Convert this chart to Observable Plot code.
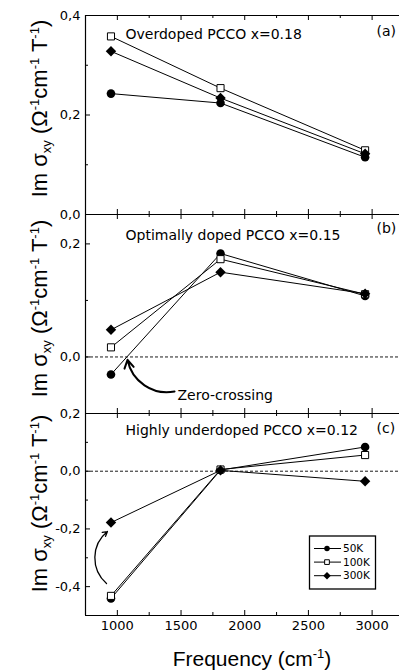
<!DOCTYPE html>
<html><head><meta charset="utf-8">
<script src="https://cdn.jsdelivr.net/npm/d3@7"></script>
<script src="https://cdn.jsdelivr.net/npm/@observablehq/plot@0.6"></script>
<style>
body{margin:0;background:#fff}
#chart{position:relative;width:399px;height:671px;overflow:hidden;background:#fff}
#chart svg{position:absolute;left:0}
</style>
</head><body><div id="chart"></div>
<script>
// ---- data ----
const freq = [950, 1810, 2945];
const temps = ["50K", "100K", "300K"];
const xDomain = [750, 3215];
const xMajor = [1000, 1500, 2000, 2500, 3000];
const xMinor = [1250, 1750, 2250, 2750];

// (a) Overdoped PCCO x=0.18
const a50  = [0.243, 0.224, 0.115];
const a100 = [0.358, 0.254, 0.129];
const a300 = [0.328, 0.234, 0.122];
const aDomain = [0, 0.4], aMajor = [0, 0.2, 0.4], aMinor = [0.1, 0.3], aLabels = [0, 0.2, 0.4];

// (b) Optimally doped PCCO x=0.15
const b50  = [-0.031, 0.183, 0.108];
const b100 = [0.017, 0.173, 0.111];
const b300 = [0.048, 0.150, 0.112];
const bDomain = [-0.1, 0.252], bMajor = [0, 0.2], bMinor = [-0.1, 0.1], bLabels = [0, 0.2];

// (c) Highly underdoped PCCO x=0.12
const c50  = [-0.441, 0.004, 0.084];
const c100 = [-0.432, 0.006, 0.056];
const c300 = [-0.178, 0.003, -0.035];
const cDomain = [-0.5, 0.2], cMajor = [-0.4, -0.2, 0, 0.2], cMinor = [-0.3, -0.1, 0.1], cLabels = [-0.4, -0.2, 0, 0.2];

const titles = ["Overdoped PCCO x=0.18", "Optimally doped PCCO x=0.15", "Highly underdoped PCCO x=0.12"];
const tags = ["(a)", "(b)", "(c)"];
// annotation arrows (data coordinates)
const zeroArrow = [{x1: 1449, y1: -0.061, x2: 1080, y2: -0.005}];
const cArrow = [{x1: 915, y1: -0.389, x2: 922, y2: -0.209}];

// ---- drawing ----
const W = 399, ML = 85, MR = 0;
const fmt = d => d.toFixed(1).replace(".", ",");
const container = document.getElementById("chart");

function rows(vals, T) { return freq.map((f, i) => ({f, v: vals[i], T})); }

function panel(cfg) {
  const {top, height, mt, mb, ydom, yMajor, yMinor, yLabels, series, zero, xLabels, texts, arrows} = cfg;
  const ph = height - mt - mb, pw = W - ML - MR;
  const marks = [
    Plot.ruleY(ydom, {stroke: "#000", strokeWidth: 1.2}),
    Plot.ruleX([xDomain[0]], {stroke: "#000", strokeWidth: 1.2}),
    Plot.ruleX(xMajor, {insetTop: ph - 5, stroke: "#000"}),
    Plot.ruleX(xMinor, {insetTop: ph - 3, stroke: "#000"}),
    Plot.ruleX(xMajor, {insetBottom: ph - 5, stroke: "#000"}),
    Plot.ruleX(xMinor, {insetBottom: ph - 3, stroke: "#000"}),
    Plot.ruleY(yMajor, {insetRight: pw - 5, stroke: "#000"}),
    Plot.ruleY(yMinor, {insetRight: pw - 3, stroke: "#000"}),
    Plot.axisY(yLabels, {tickSize: 0, tickPadding: 5, tickFormat: fmt, label: null, fontSize: 13, fill: "#000"})
  ];
  if (xLabels) marks.push(Plot.axisX(xMajor, {tickSize: 0, tickPadding: 5, tickFormat: d => String(d), label: null, fontSize: 13, fill: "#000"}));
  if (zero) marks.push(Plot.ruleY([0], {stroke: "#000", strokeDasharray: "3,2", strokeWidth: 0.9}));
  const data = series.map((s, i) => rows(s, temps[i]));
  const all = data.flat();
  marks.push(Plot.line(all, {x: "f", y: "v", z: "T", stroke: "#000", strokeWidth: 1}));
  marks.push(Plot.dot(data[0], {x: "f", y: "v", symbol: "circle", r: 4.3, fill: "#000", stroke: "none"}));
  marks.push(Plot.dot(data[1], {x: "f", y: "v", symbol: "square", r: 4, fill: "#fff", stroke: "#000", strokeWidth: 1}));
  marks.push(Plot.dot(data[2], {x: "f", y: "v", symbol: "diamond2", r: 4.7, fill: "#000", stroke: "none"}));
  for (const t of texts) {
    marks.push(Plot.text([t.s], {text: d => d, frameAnchor: "top-left", dx: t.dx, dy: t.dy, textAnchor: "start", lineAnchor: "top", fontSize: 14, fill: "#000"}));
  }
  for (const a of arrows) {
    marks.push(Plot.arrow(a.data, {x1: "x1", y1: "y1", x2: "x2", y2: "y2", bend: a.bend, stroke: "#000", strokeWidth: a.sw, headLength: a.head}));
  }
  const svg = Plot.plot({
    width: W, height, marginLeft: ML, marginRight: MR, marginTop: mt, marginBottom: mb,
    style: {background: "transparent", overflow: "visible", fontFamily: "'DejaVu Sans', sans-serif", fontSize: "13px", color: "#000"},
    x: {domain: xDomain, axis: xLabels ? undefined : null},
    y: {domain: ydom},
    marks
  });
  svg.style.top = top + "px";
  container.appendChild(svg);
}

panel({top: 0, height: 219, mt: 15, mb: 5, ydom: aDomain, yMajor: aMajor, yMinor: aMinor, yLabels: aLabels,
  series: [a50, a100, a300], zero: false, xLabels: false,
  texts: [{s: titles[0], dx: 40, dy: 14}, {s: tags[0], dx: 291, dy: 11}], arrows: []});
panel({top: 209, height: 209, mt: 5, mb: 5, ydom: bDomain, yMajor: bMajor, yMinor: bMinor, yLabels: bLabels,
  series: [b50, b100, b300], zero: true, xLabels: false,
  texts: [{s: titles[1], dx: 40, dy: 15.4}, {s: tags[1], dx: 291, dy: 9}, {s: "Zero-crossing", dx: 92, dy: 176}],
  arrows: [{data: zeroArrow, bend: 45, sw: 2, head: 7}]});
panel({top: 408, height: 263, mt: 5, mb: 56, ydom: cDomain, yMajor: cMajor, yMinor: cMinor, yLabels: cLabels,
  series: [c50, c100, c300], zero: true, xLabels: true,
  texts: [{s: titles[2], dx: 40, dy: 12}, {s: tags[2], dx: 291, dy: 10}],
  arrows: [{data: cArrow, bend: 50, sw: 1.3, head: 6}]});

// ---- overlay: axis titles and legend ----
const ov = d3.select(container).append("svg")
  .attr("width", W).attr("height", 671)
  .style("top", "0px").style("overflow", "visible").style("pointer-events", "none");

function ylabel(cy) {
  const t = ov.append("text")
    .attr("transform", `translate(47,${cy}) rotate(-90)`)
    .attr("text-anchor", "middle")
    .attr("font-family", "'Liberation Sans', Arial, sans-serif")
    .attr("font-size", 22).attr("fill", "#000");
  const parts = [["Im σ", 0, 22], ["xy", 4, 13], [" (Ω", -4, 22], ["-1", -8, 13], ["cm", 8, 22], ["-1", -8, 13], [" T", 8, 22], ["-1", -8, 13], [")", 8, 22]];
  for (const [s, dy, fs] of parts) t.append("tspan").attr("dy", dy).attr("font-size", fs).text(s);
}
ylabel(108.5);
ylabel(308.5);
ylabel(503.5);

const xl = ov.append("text")
  .attr("x", 252).attr("y", 666).attr("text-anchor", "middle")
  .attr("font-family", "'Liberation Sans', Arial, sans-serif")
  .attr("font-size", 21).attr("fill", "#000");
xl.append("tspan").text("Frequency (cm");
xl.append("tspan").attr("dy", -8).attr("font-size", 13).text("-1");
xl.append("tspan").attr("dy", 8).text(")");

// legend
const lg = ov.append("g");
lg.append("rect").attr("x", 309.5).attr("y", 536).attr("width", 66).attr("height", 53)
  .attr("fill", "#fff").attr("stroke", "#000").attr("stroke-width", 1.3);
const legSyms = [
  {sym: d3.symbolCircle, size: 24, fill: "#000", stroke: "none"},
  {sym: d3.symbolSquare, size: 22, fill: "#fff", stroke: "#000"},
  {sym: d3.symbolDiamond2, size: 36, fill: "#000", stroke: "none"}
];
temps.forEach((T, i) => {
  const y = 548.5 + i * 13.6;
  lg.append("line").attr("x1", 314).attr("x2", 341).attr("y1", y).attr("y2", y).attr("stroke", "#000").attr("stroke-width", 1);
  const s = legSyms[i];
  lg.append("path").attr("d", d3.symbol(s.sym, s.size)()).attr("transform", `translate(327,${y})`)
    .attr("fill", s.fill).attr("stroke", s.stroke).attr("stroke-width", 1);
  lg.append("text").attr("x", 343).attr("y", y).attr("dy", "0.36em")
    .attr("font-family", "'DejaVu Sans', sans-serif").attr("font-size", 10.5).attr("fill", "#000").text(T);
});
</script>
</body></html>
